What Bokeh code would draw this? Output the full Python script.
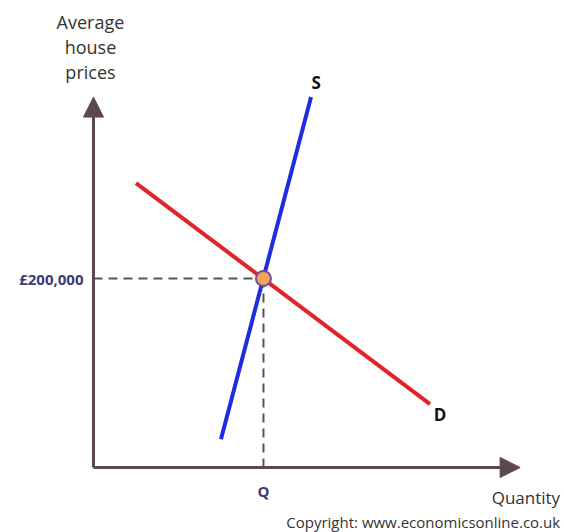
from bokeh.plotting import figure
from bokeh.models import Range1d, Arrow, NormalHead, Label
from bokeh.embed import file_html
from bokeh.resources import INLINE

# Market for houses: quantity (index, equilibrium = 100) and price (£000)
supply_q = [75, 128]
supply_p = [30, 392]
demand_q = [25, 198]
demand_p = [301, 67]
eq_q = [100]
eq_p = [200]
price_label = "£200,000"
qty_label = "Q"
y_title = ["Average", "house", "prices"]
axis_top = 392
axis_right = 251

p = figure(width=564, height=532, output_backend="svg", toolbar_location=None,
           x_range=Range1d(-54.7, 277.1), y_range=Range1d(-68.8, 494.2),
           min_border=0, outline_line_color=None)
p.axis.visible = False
p.grid.visible = False
p.background_fill_color = "white"
p.border_fill_color = "white"

axis_col = "#5a4752"
# axes with arrowheads
p.add_layout(Arrow(end=NormalHead(size=20, fill_color=axis_col, line_color=axis_col, line_width=1),
                   x_start=0, y_start=0, x_end=0, y_end=axis_top,
                   line_color=axis_col, line_width=3))
p.add_layout(Arrow(end=NormalHead(size=20, fill_color=axis_col, line_color=axis_col, line_width=1),
                   x_start=0, y_start=0, x_end=axis_right, y_end=0,
                   line_color=axis_col, line_width=3))

# dashed guides to the equilibrium
p.line([0, eq_q[0]], [eq_p[0], eq_p[0]], line_color="#555555", line_width=2, line_dash="9 6")
p.line([eq_q[0], eq_q[0]], [0, eq_p[0]], line_color="#555555", line_width=2, line_dash="9 6")

# demand and supply curves
p.line(demand_q, demand_p, line_color="#e4222b", line_width=4)
p.line(supply_q, supply_p, line_color="#1f2de0", line_width=4)

# equilibrium point
p.scatter(eq_q, eq_p, size=15, fill_color="#f2a457", line_color="#7a4a9a", line_width=2)

font = "Open Sans"
p.add_layout(Label(x=0, y=eq_p[0], x_offset=-10, text=price_label, text_align="right",
                   text_baseline="middle", text_font=font, text_font_size="15px",
                   text_font_style="bold", text_color="#3b3a7a"))
p.add_layout(Label(x=eq_q[0], y=0, y_offset=-24, text=qty_label, text_align="center",
                   text_baseline="middle", text_font=font, text_font_size="15px",
                   text_font_style="bold", text_color="#3b3a7a"))
p.add_layout(Label(x=supply_q[1], y=supply_p[1], x_offset=5, y_offset=15, text="S",
                   text_align="center", text_baseline="middle", text_font=font,
                   text_font_size="17px", text_font_style="bold", text_color="#111111"))
p.add_layout(Label(x=demand_q[1], y=demand_p[1], x_offset=10, y_offset=-10, text="D",
                   text_align="center", text_baseline="middle", text_font=font,
                   text_font_size="17px", text_font_style="bold", text_color="#111111"))

for i, line in enumerate(y_title):
    p.add_layout(Label(x=0, y=axis_top, x_offset=-3, y_offset=75 - 25 * i,
                       text=line, text_align="center", text_baseline="middle",
                       text_font=font, text_font_size="18px", text_color="#333333"))

p.add_layout(Label(x=axis_right, y=0, x_offset=40, y_offset=-30, text="Quantity",
                   text_align="right", text_baseline="middle", text_font=font,
                   text_font_size="17px", text_color="#333333"))
p.add_layout(Label(x=axis_right, y=0, x_offset=40, y_offset=-55,
                   text="Copyright: www.economicsonline.co.uk", text_align="right",
                   text_baseline="middle", text_font=font, text_font_size="15px",
                   text_color="#333333"))

open("out.html", "w").write(file_html(p, INLINE))
